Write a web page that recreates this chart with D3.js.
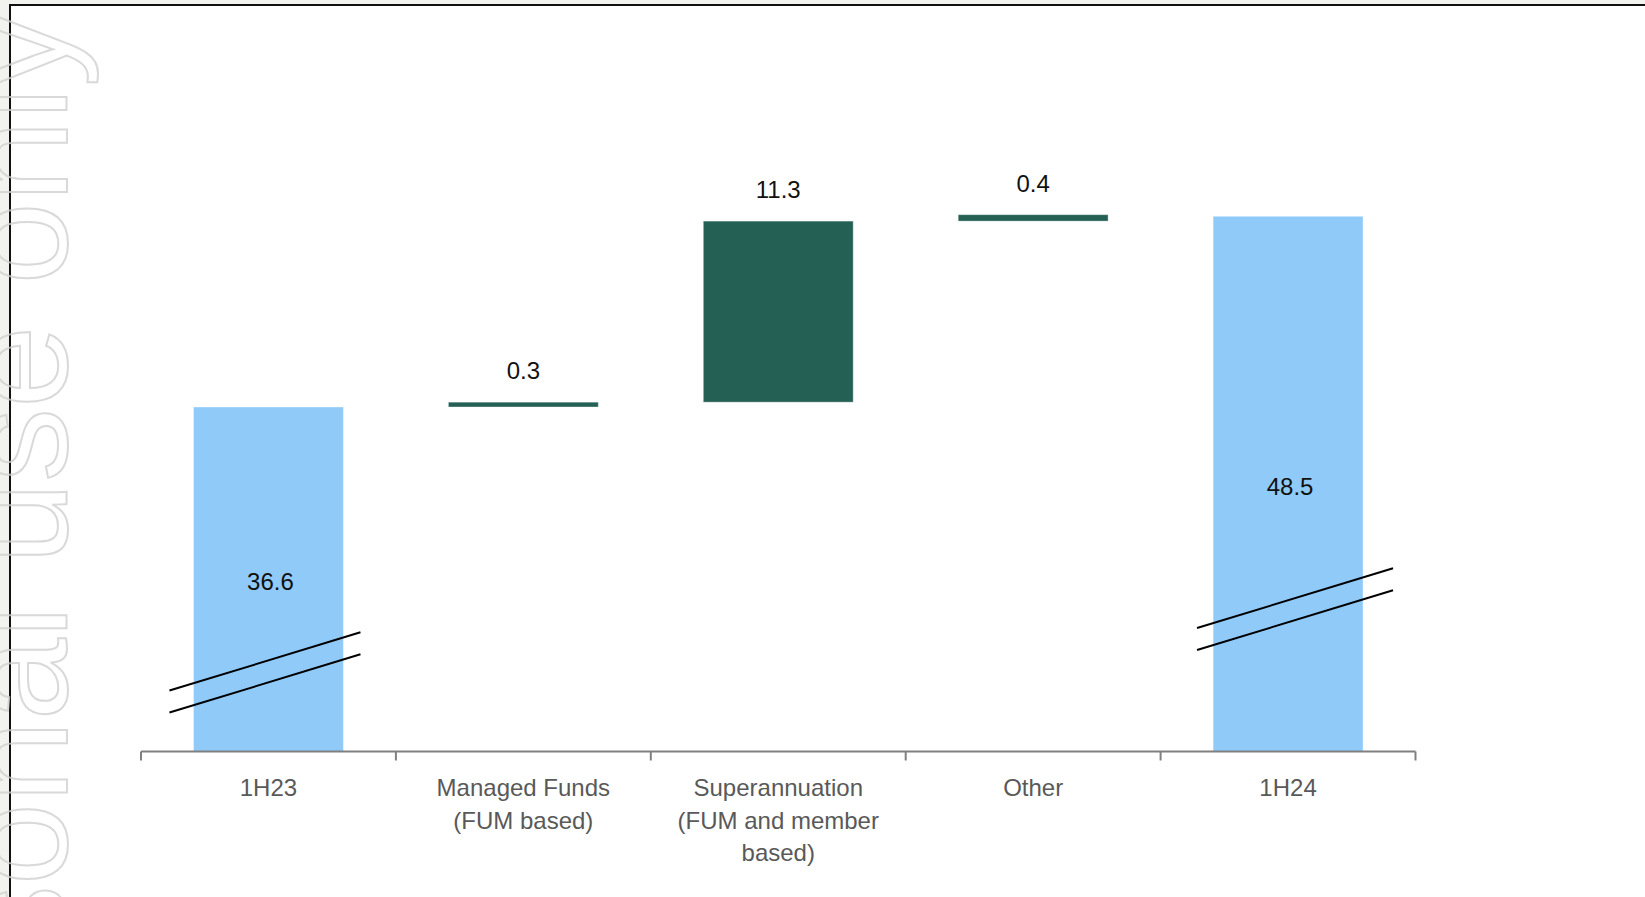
<!DOCTYPE html>
<html>
<head>
<meta charset="utf-8">
<script src="https://cdn.jsdelivr.net/npm/d3@7"></script>
<style>
  html, body { margin: 0; padding: 0; background: #f2f2ee; }
  svg { display: block; }
</style>
</head>
<body>
<svg id="chart" width="1645" height="897"></svg>
<script>
// Revenue bridge, 1H23 to 1H24
const categories = ["1H23", "Managed Funds", "Superannuation", "Other", "1H24"];
const tickLabels = [
  ["1H23"],
  ["Managed Funds", "(FUM based)"],
  ["Superannuation", "(FUM and member", "based)"],
  ["Other"],
  ["1H24"]
];
const values = [36.6, 0.3, 11.3, 0.4, 48.5];
const kinds = ["total", "delta", "delta", "delta", "total"];
// where the axis-break marks cross the two total bars (in value units)
const breakCategories = ["1H23", "1H24"];
const breakValues = [20.1, 23.85];

const colors = { total: "#90caf9", delta: "#256055" };

const svg = d3.select("#chart");
const W = 1645, H = 897;

// panel
svg.append("rect")
  .attr("x", 10).attr("y", 5)
  .attr("width", W + 20).attr("height", H + 20)
  .attr("fill", "#ffffff")
  .attr("stroke", "#111").attr("stroke-width", 2);

const x = d3.scaleBand().domain(categories).range([141, 1415.5]).padding(0);
const y = d3.scaleLinear().domain([15.1, 48.5]).range([751.5, 216.3]);
const barFrac = 0.588;
const barW = x.bandwidth() * barFrac;
const barX = c => x(c) + (x.bandwidth() - barW) / 2;
const cx = c => x(c) + x.bandwidth() / 2;

// waterfall segments
let running = 0;
const bars = categories.map((c, i) => {
  let lo, hi;
  if (kinds[i] === "total") {
    lo = y.domain()[0]; hi = values[i]; running = values[i];
  } else {
    lo = running; hi = running + values[i]; running = hi;
  }
  return { cat: c, value: values[i], kind: kinds[i], lo, hi };
});

const g = svg.append("g");

g.selectAll("rect.bar")
  .data(bars)
  .join("rect")
  .attr("class", "bar")
  .attr("x", d => barX(d.cat))
  .attr("width", barW)
  .attr("y", d => y(d.hi))
  .attr("height", d => y(d.lo) - y(d.hi))
  .attr("fill", d => colors[d.kind])
  .attr("stroke", "#ffffff").attr("stroke-opacity", 0.35).attr("stroke-width", 1);

// value labels: totals inside the bar, changes above it
g.selectAll("text.value")
  .data(bars)
  .join("text")
  .attr("class", "value")
  .attr("x", d => cx(d.cat) + (d.kind === "total" ? 2 : 0))
  .attr("y", d => d.kind === "total" ? (y(d.lo) + y(d.hi)) / 2 + 11 : y(d.hi) - 23)
  .attr("text-anchor", "middle")
  .attr("font-family", "'Liberation Sans', Arial, sans-serif")
  .attr("font-size", 24)
  .attr("fill", "#111")
  .text(d => d3.format(".1f")(d.value));

// axis-break marks on the total bars
const slope = -0.305;
const breakSpans = [[-99, 92], [-91, 105]];
breakCategories.forEach((c, i) => {
  const mid = y(breakValues[i]);
  const span = breakSpans[i];
  [-11, 11].forEach(off => {
    g.append("line")
      .attr("x1", cx(c) + span[0]).attr("y1", mid + off + slope * span[0])
      .attr("x2", cx(c) + span[1]).attr("y2", mid + off + slope * span[1])
      .attr("stroke", "#000").attr("stroke-width", 2);
  });
});

// category axis
const axisY = y(y.domain()[0]);
const axis = svg.append("g");
axis.append("line")
  .attr("x1", x.range()[0]).attr("x2", x.range()[1])
  .attr("y1", axisY).attr("y2", axisY)
  .attr("stroke", "#808080").attr("stroke-width", 2);
const edges = categories.map(c => x(c)).concat([x.range()[1]]);
axis.selectAll("line.tick")
  .data(edges)
  .join("line")
  .attr("class", "tick")
  .attr("x1", d => d).attr("x2", d => d)
  .attr("y1", axisY).attr("y2", axisY + 9)
  .attr("stroke", "#808080").attr("stroke-width", 2);

const labels = axis.selectAll("text.cat")
  .data(categories)
  .join("text")
  .attr("class", "cat")
  .attr("x", d => cx(d))
  .attr("y", 796)
  .attr("text-anchor", "middle")
  .attr("font-family", "'Liberation Sans', Arial, sans-serif")
  .attr("font-size", 24)
  .attr("fill", "#595959");
labels.each(function(d, i) {
  d3.select(this).selectAll("tspan")
    .data(tickLabels[i])
    .join("tspan")
    .attr("x", cx(d))
    .attr("dy", (t, j) => j === 0 ? 0 : 32.5)
    .text(t => t);
});

// watermark
svg.append("text")
  .attr("transform", "translate(67,13) rotate(-90)")
  .attr("text-anchor", "end")
  .attr("font-family", "'Liberation Sans', Arial, sans-serif")
  .attr("font-size", 148)
  .attr("fill", "none")
  .attr("stroke", "#cfcfcf")
  .attr("stroke-opacity", 0.8)
  .attr("stroke-width", 2)
  .text("For personal use only");
</script>
</body>
</html>
